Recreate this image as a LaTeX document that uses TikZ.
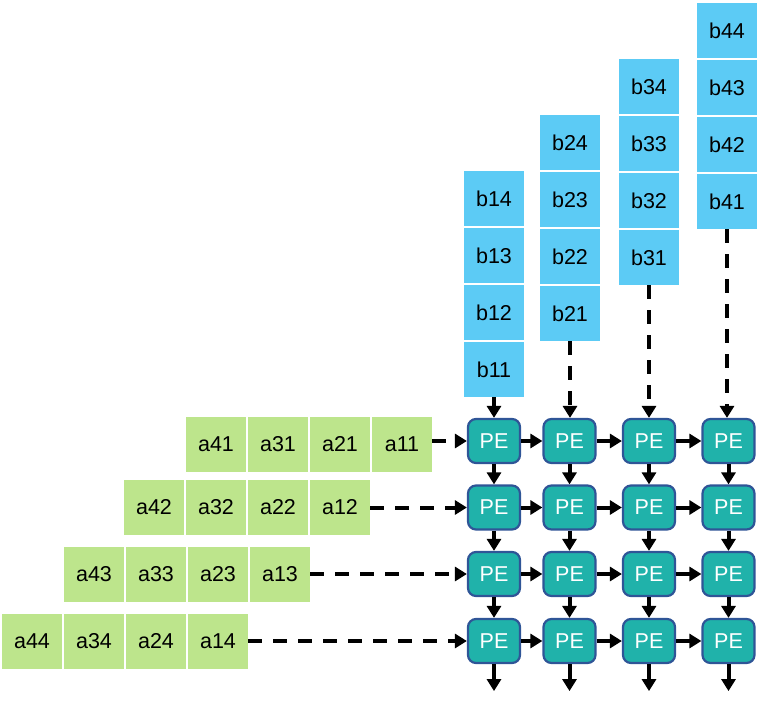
\documentclass[tikz,border=0pt]{standalone}
\usepackage{fontspec}
\setmainfont{Liberation Sans}
\usetikzlibrary{arrows.meta}
\definecolor{agreen}{RGB}{189,229,140}
\definecolor{bblue}{RGB}{92,203,245}
\definecolor{peteal}{RGB}{32,178,170}
\definecolor{peborder}{RGB}{47,85,151}
\begin{document}
\begin{tikzpicture}[x=1pt,y=-1pt,
  cell/.style={minimum width=60pt,minimum height=55pt,inner sep=0pt,font=\fontsize{21.5}{25}\selectfont},
  abox/.style={cell,fill=agreen},
  bbox/.style={cell,fill=bblue},
  pe/.style={draw=peborder,line width=2.2pt,fill=peteal,rounded corners=8pt,minimum width=52pt,minimum height=44pt,inner sep=0pt,text=white,font=\fontsize{21.5}{25}\selectfont},
  link/.style={line width=4pt,-{Triangle[length=12pt,width=14pt]}},
  feed/.style={link,dash pattern=on 14pt off 11pt}]
\useasboundingbox (0,0) rectangle (759,706);
% B columns
\foreach \c/\x/\y in {1/494/369.5,2/570/313.5,3/649/257.5,4/727/201.5}{
  \foreach \k in {1,...,4}{
    \pgfmathsetmacro{\yy}{\y-57*(\k-1)}
    \node[bbox] (b\c\k) at (\x,\yy) {b\c\k};
  }
}
% A rows
\foreach \r/\x/\y in {1/402/444.5,2/340/507.5,3/280/574.5,4/218/641.5}{
  \foreach \k in {1,...,4}{
    \pgfmathsetmacro{\xx}{\x-62*(\k-1)}
    \node[abox] (a\k\r) at (\xx,\y) {a\k\r};
  }
}
% PE grid
\foreach \r/\y in {1/441,2/507.5,3/574,4/641}{
  \foreach \c/\x in {1/494,2/569.5,3/649,4/728.5}{
    \node[pe] (pe\r\c) at (\x,\y) {PE};
  }
}
% horizontal links
\foreach \r in {1,...,4}{
  \foreach \c/\n in {1/2,2/3,3/4}{
    \draw[link] (pe\r\c.east) -- (pe\r\n.west);
  }
}
% vertical links
\foreach \r/\n in {1/2,2/3,3/4}{
  \foreach \c in {1,...,4}{
    \draw[link] (pe\r\c.south) -- (pe\n\c.north);
  }
}
% outputs
\foreach \c in {1,...,4}{
  \path (pe4\c.south) ++(0,27) coordinate (out\c);
  \draw[link] (pe4\c.south) -- (out\c);
}
% A feeds
\foreach \r in {1,...,4}{
  \draw[feed] (a1\r.east |- pe\r1.west) -- (pe\r1.west);
}
% B feeds
\draw[link] (b11.south) -- (b11.south |- pe11.north);
\foreach \c in {2,3,4}{
  \draw[feed] (b\c1.south) -- (b\c1.south |- pe1\c.north);
}
\end{tikzpicture}
\end{document}
